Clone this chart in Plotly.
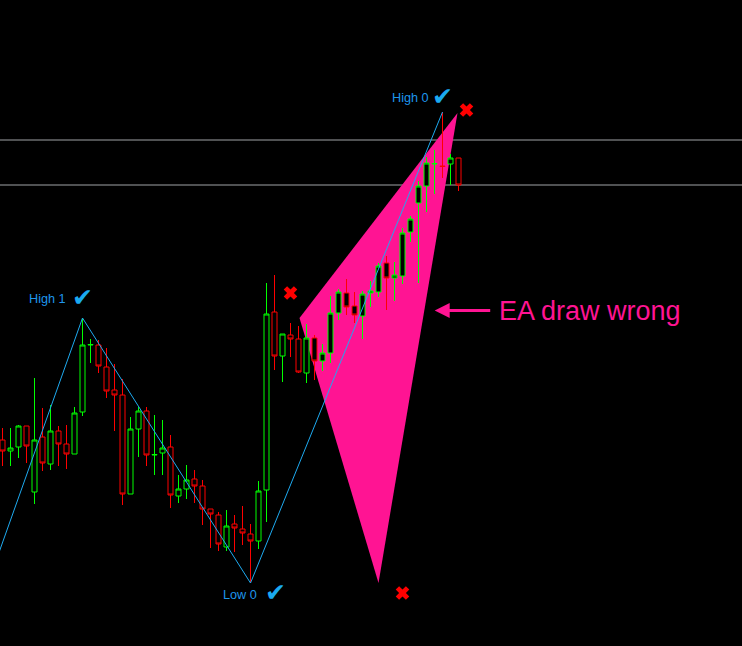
import plotly.graph_objects as go

# ---------------- data (price units) ----------------
bar_index = list(range(58))
opens = [206,195,199,220,154,209,182,215,202,192,234,301,301,279,256,251,152,217,235,191,
         193,199,150,157,167,160,137,131,99,122,117,112,105,156,334,290,311,307,273,308,
         285,293,333,353,340,330,353,354,383,368,370,414,443,460,482,480,482,488]
highs = [218,218,221,220,268,238,241,220,221,239,328,307,306,298,282,267,229,239,239,231,
         226,211,171,181,176,166,137,134,136,131,140,122,165,363,371,312,323,320,322,311,
         302,350,357,367,354,355,365,383,390,384,418,430,465,489,496,534,492,488]
lows = [180,180,188,183,142,175,176,180,177,192,230,283,273,248,215,141,152,189,180,171,
        171,138,143,147,143,121,98,95,95,94,101,63,97,124,276,264,289,273,263,266,
        275,283,326,331,323,307,339,349,336,345,362,404,363,434,452,468,461,455]
closes = [195,198,220,200,206,183,215,202,192,233,301,301.5,280,255,251,152,217,235,191,191.5,
          198,151,157,166,160,137,132,102,120,118,113,105,155,332,290,312,307,274,308,285,
          293,333,354,339,331,352,355,380,368,371,413,427,460,483,482.5,479.5,488,461]

# zigzag pivots (bar index, price)
zz_idx = [-3, 10, 31, 55]
zz_price = [36, 328, 63, 534]
pivot_names = ["High 1", "Low 0", "High 0"]

# wrongly drawn pattern triangle
tri_idx = [37.125, 56.875, 47]
tri_price = [328, 533, 63]

# rejected points (red crosses)
cross_idx = [58, 36, 50]
cross_price = [536, 353, 53]

# horizontal levels
h_levels = [506, 461]

W, H = 742, 646
PX = 8.0  # pixels per bar

shapes = []
# pink triangle (background, below candles)
tri_path = "M " + " L ".join(f"{a},{b}" for a, b in zip(tri_idx, tri_price)) + " Z"
shapes.append(dict(type="path", path=tri_path, xref="x", yref="y", layer="below",
                   fillcolor="#FF1493", line=dict(width=0)))
# horizontal levels (above the triangle)
for lv in h_levels:
    shapes.append(dict(type="line", xref="paper", x0=0, x1=1, yref="y", y0=lv, y1=lv,
                       layer="below", line=dict(color="#A0A3A6", width=1)))

fig = go.Figure()

# candles
fig.add_trace(go.Candlestick(
    x=bar_index, open=opens, high=highs, low=lows, close=closes,
    increasing=dict(line=dict(color="#00FF00", width=1), fillcolor="#000000"),
    decreasing=dict(line=dict(color="#FF0000", width=1), fillcolor="#000000"),
    whiskerwidth=0, hoverinfo="skip", showlegend=False))

# zigzag
fig.add_trace(go.Scatter(
    x=zz_idx, y=zz_price, mode="lines",
    line=dict(color="#1EAAF0", width=1), hoverinfo="skip", showlegend=False))

# red crosses
fig.add_trace(go.Scatter(
    x=cross_idx, y=cross_price, mode="markers",
    marker=dict(symbol="x", size=12, color="#FF0000", line=dict(width=0)),
    hoverinfo="skip", showlegend=False))

# pivot labels: (text xshift, text yshift, xanchor, check xshift, check yshift)
label_style = [(-14.5, 19, "right", -0.5, 21),
               (8.8, -12, "right", 24.5, -9.5),
               (-11.8, 14, "right", -0.5, 16)]
annotations = []
for k, name in enumerate(pivot_names):
    px_i, px_p = zz_idx[k + 1], zz_price[k + 1]
    tx, ty, xa, cx, cy = label_style[k]
    annotations.append(dict(
        x=px_i, y=px_p, xref="x", yref="y", text=name, showarrow=False,
        xanchor=xa, yanchor="middle", xshift=tx, yshift=ty,
        font=dict(family="Arial, Liberation Sans, sans-serif", size=12.7, color="#1E96EC")))
    annotations.append(dict(
        x=px_i, y=px_p, xref="x", yref="y", text="✔", showarrow=False,
        xanchor="center", yanchor="middle", xshift=cx, yshift=cy,
        font=dict(family="DejaVu Sans, sans-serif", size=25, color="#1AAAF0")))

# arrow and comment
annotations.append(dict(
    x=434.7 / W, y=1 - 310.5 / H, xref="paper", yref="paper", text="",
    showarrow=True, ax=57, ay=0, axref="pixel", ayref="pixel",
    arrowhead=2, arrowsize=1.0, arrowwidth=3, arrowcolor="#FF1493", standoff=0))
annotations.append(dict(
    x=497 / W, y=1 - 311 / H, xref="paper", yref="paper", text="EA draw wrong",
    showarrow=False, xanchor="left", yanchor="middle",
    font=dict(family="Arial, Liberation Sans, sans-serif", size=27, color="#FF1493")))

fig.update_layout(
    width=W, height=H,
    margin=dict(l=0, r=0, t=0, b=0),
    paper_bgcolor="#000000", plot_bgcolor="#000000",
    showlegend=False,
    boxgap=0.375, boxgroupgap=0,
    shapes=shapes,
    annotations=annotations,
    xaxis=dict(range=[-0.25 - 0.5 / PX, W / PX - 0.25 - 0.5 / PX], visible=False,
               rangeslider=dict(visible=False), fixedrange=True),
    yaxis=dict(range=[0, H], visible=False, fixedrange=True),
)

fig.write_html("out.html", config={"displayModeBar": False})
